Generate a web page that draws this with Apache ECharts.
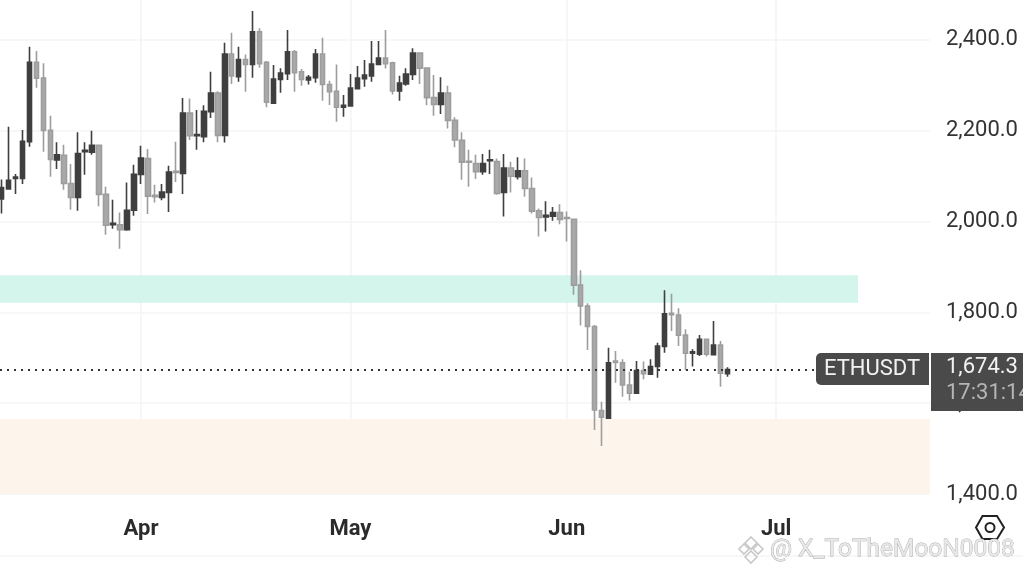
<!DOCTYPE html>
<html><head><meta charset="utf-8">
<style>html,body{margin:0;padding:0;background:#fff;overflow:hidden}#c{width:1023px;height:575px}</style>
<script src="https://cdn.jsdelivr.net/npm/echarts@6/dist/echarts.min.js"></script>
</head><body><div id="c"></div>
<script>
const firstDay = Date.UTC(2025, 2, 12);
const DAY = 86400000;
const opens = [2050,2072,2095,2095,2176,2351,2316,2201,2136,2146,2084,2053,2154,2153,2168,2060,1993,1993,1982,2025,2104,2139,2058,2053,2064,2111,2106,2239,2189,2187,2242,2283,2190,2369,2319,2357,2346,2418,2351,2261,2313,2326,2374,2330,2312,2317,2369,2302,2287,2252,2255,2293,2315,2321,2346,2360,2350,2288,2303,2324,2371,2338,2273,2258,2283,2223,2179,2133,2128,2110,2134,2132,2064,2118,2099,2112,2073,2024,2010,2012,2020,2009,2005,1860,1814,1769,1584,1567,1693,1689,1640,1622,1672,1664,1681,1725,1798,1794,1750,1710,1708,1741,1707,1728,1665];
const closes = [2075,2091,2098,2177,2351,2316,2201,2137,2147,2084,2053,2150,2157,2168,2060,1992,1996,1982,2025,2104,2140,2056,2055,2065,2109,2108,2239,2189,2192,2243,2283,2190,2369,2321,2357,2346,2418,2348,2263,2314,2327,2374,2328,2313,2318,2369,2302,2286,2252,2256,2294,2316,2323,2347,2360,2348,2288,2305,2325,2371,2338,2273,2258,2283,2223,2180,2131,2131,2110,2128,2136,2062,2118,2100,2112,2073,2023,2009,2014,2020,2005,2007,1860,1814,1769,1585,1569,1689,1690,1640,1622,1672,1665,1681,1726,1797,1795,1750,1710,1713,1741,1708,1728,1666,1674.3];
const lows = [2018,2070,2061,2083,2165,2295,2154,2099,2116,2070,2026,2024,2103,2147,2034,1971,1984,1940,1980,2013,2083,2017,2042,2047,2021,2087,2061,2180,2158,2175,2228,2175,2174,2303,2308,2286,2317,2339,2252,2259,2284,2312,2286,2299,2302,2306,2266,2257,2220,2231,2253,2291,2297,2308,2345,2337,2280,2266,2299,2312,2303,2256,2233,2237,2205,2164,2092,2077,2094,2103,2105,2059,2011,2064,2093,2055,2018,1967,1978,2002,1994,1956,1839,1771,1717,1541,1506,1566,1645,1614,1606,1620,1653,1662,1656,1711,1759,1726,1673,1681,1704,1703,1706,1636,1658];
const highs = [2093,2209,2105,2202,2385,2376,2349,2233,2175,2169,2127,2197,2175,2200,2169,2077,2048,2020,2086,2125,2167,2160,2081,2083,2123,2176,2272,2271,2246,2256,2330,2287,2394,2416,2385,2368,2464,2426,2354,2345,2338,2422,2378,2336,2323,2380,2405,2310,2346,2279,2325,2343,2356,2398,2398,2422,2352,2321,2338,2382,2373,2340,2323,2318,2299,2230,2197,2158,2147,2149,2158,2139,2149,2132,2142,2139,2097,2029,2045,2032,2038,2022,2007,1893,1820,1772,1603,1722,1715,1697,1670,1693,1692,1697,1733,1849,1841,1809,1763,1719,1750,1742,1781,1737,1679];

const monthLabels = ['Apr', 'May', 'Jun', 'Jul'];
const monthDates = [Date.UTC(2025,3,1), Date.UTC(2025,4,1), Date.UTC(2025,5,1), Date.UTC(2025,6,1)];
const priceTicks = [1400, 1600, 1800, 2000, 2200, 2400];
const lastPrice = 1674.3;
const symbolName = 'ETHUSDT';
const priceText = '1,674.3';
const countdownText = '17:31:14';
const watermark = '@ X_ToTheMooN0008';
const greenZone = [1821, 1882];
const peachZone = [1400, 1565];

const PW = 930, PXDAY = 6.98;
const xMin = monthDates[0] - (141 / PXDAY) * DAY;
const xMax = xMin + (PW / PXDAY) * DAY;
const pxToTime = p => xMin + (p / PXDAY) * DAY;

const candles = opens.map((o, i) => [firstDay + i * DAY, o, closes[i], lows[i], highs[i]]);
const fmt = v => v.toLocaleString('en-US', {minimumFractionDigits: 1, maximumFractionDigits: 1});

const chart = echarts.init(document.getElementById('c'), null, {renderer: 'canvas'});
chart.setOption({
  animation: false,
  backgroundColor: '#ffffff',
  grid: {left: 0, top: 0, width: PW, height: 494, containLabel: false},
  xAxis: {
    type: 'value', min: xMin, max: xMax, scale: true,
    axisLine: {show: false}, axisTick: {show: false, customValues: monthDates},
    splitLine: {show: true, lineStyle: {color: '#f4f4f4', width: 1.6}},
    axisLabel: {
      customValues: monthDates, margin: 24, fontFamily: 'Roboto', fontWeight: 'bold', fontSize: 22, color: '#2b2b2b',
      hideOverlap: false,
      formatter: v => { const i = monthDates.indexOf(+v); return i >= 0 ? monthLabels[i] : ''; }
    }
  },
  yAxis: {
    type: 'value', position: 'right', min: priceTicks[0], max: 2488.1, interval: 200,
    axisLine: {show: false}, axisTick: {show: false},
    splitLine: {show: true, showMaxLine: false, lineStyle: {color: '#f4f4f4', width: 1.6}},
    axisLabel: {
      margin: 16, fontFamily: 'Roboto', fontSize: 22, color: '#333333', showMaxLabel: false,
      verticalAlign: 'middle', padding: [0, 0, 5, 0],
      formatter: v => priceTicks.includes(v) ? fmt(v) : ''
    }
  },
  series: [{
    type: 'candlestick', data: candles, barWidth: 5, clip: true,
    encode: {x: 0, y: [1, 2, 3, 4]},
    itemStyle: {color: '#3f3f3f', borderColor: '#3f3f3f', color0: '#a9a9a9', borderColor0: '#9d9d9d', borderWidth: 1.6},
    markArea: {
      silent: true, z: 1,
      itemStyle: {opacity: 1},
      data: [
        [{xAxis: xMin, yAxis: greenZone[1], itemStyle: {color: '#d3f5ec'}}, {xAxis: pxToTime(858), yAxis: greenZone[0]}],
        [{xAxis: xMin, yAxis: peachZone[1], itemStyle: {color: '#fdf5ec'}}, {xAxis: xMax, yAxis: peachZone[0]}]
      ]
    },
    markLine: {
      silent: true, symbol: 'none', label: {show: false},
      lineStyle: {color: '#333333', type: [2, 5], width: 2},
      data: [[{coord: [xMin, lastPrice]}, {coord: [pxToTime(815), lastPrice]}]]
    }
  }],
  graphic: [
    {type: 'line', z: 5, shape: {x1: 0, y1: 556, x2: 1023, y2: 556}, style: {stroke: '#f4f4f4', lineWidth: 1.6}},
    {type: 'rect', z: 20, shape: {x: 816, y: 353, width: 113, height: 32, r: [5, 0, 0, 5]}, style: {fill: '#4a4a4a'}},
    {type: 'text', z: 21, style: {x: 872, y: 369, text: symbolName, fill: '#f2f2f2', font: '22px Roboto', align: 'center', verticalAlign: 'middle'}},
    {type: 'rect', z: 20, shape: {x: 931, y: 353, width: 92, height: 58}, style: {fill: '#4a4a4a'}},
    {type: 'text', z: 21, style: {x: 946, y: 367, text: priceText, fill: '#f2f2f2', font: '22px Roboto', align: 'left', verticalAlign: 'middle'}},
    {type: 'text', z: 21, style: {x: 946, y: 393, text: countdownText, fill: '#b5b5b5', font: '22px Roboto', align: 'left', verticalAlign: 'middle'}},
    {type: 'polygon', z: 21, shape: {points: [[976,527.5],[982.5,516],[997,516],[1004,527.5],[997,539],[982.5,539]]}, style: {fill: '#fff', stroke: '#222', lineWidth: 2}},
    {type: 'circle', z: 22, shape: {cx: 990, cy: 527.5, r: 4.5}, style: {fill: '#fff', stroke: '#222', lineWidth: 2}},
    {type: 'polygon', z: 30, shape: {points: [[751,537],[757,543],[751,549],[745,543]]}, style: {fill: 'none', stroke: '#c8c8c8', lineWidth: 1.6}},
    {type: 'polygon', z: 30, shape: {points: [[744,544],[749,549],[744,554],[739,549]]}, style: {fill: 'none', stroke: '#c8c8c8', lineWidth: 1.6}},
    {type: 'polygon', z: 30, shape: {points: [[758,544],[763,549],[758,554],[753,549]]}, style: {fill: 'none', stroke: '#c8c8c8', lineWidth: 1.6}},
    {type: 'polygon', z: 30, shape: {points: [[751,551],[757,557],[751,563],[745,557]]}, style: {fill: 'none', stroke: '#c8c8c8', lineWidth: 1.6}},
    {type: 'text', z: 30, style: {x: 770, y: 550, text: watermark, fill: '#e8e8e8', stroke: '#a8a8a8', lineWidth: 0.8, font: '24.5px Roboto', align: 'left', verticalAlign: 'middle'}}
  ]
});
</script></body></html>
